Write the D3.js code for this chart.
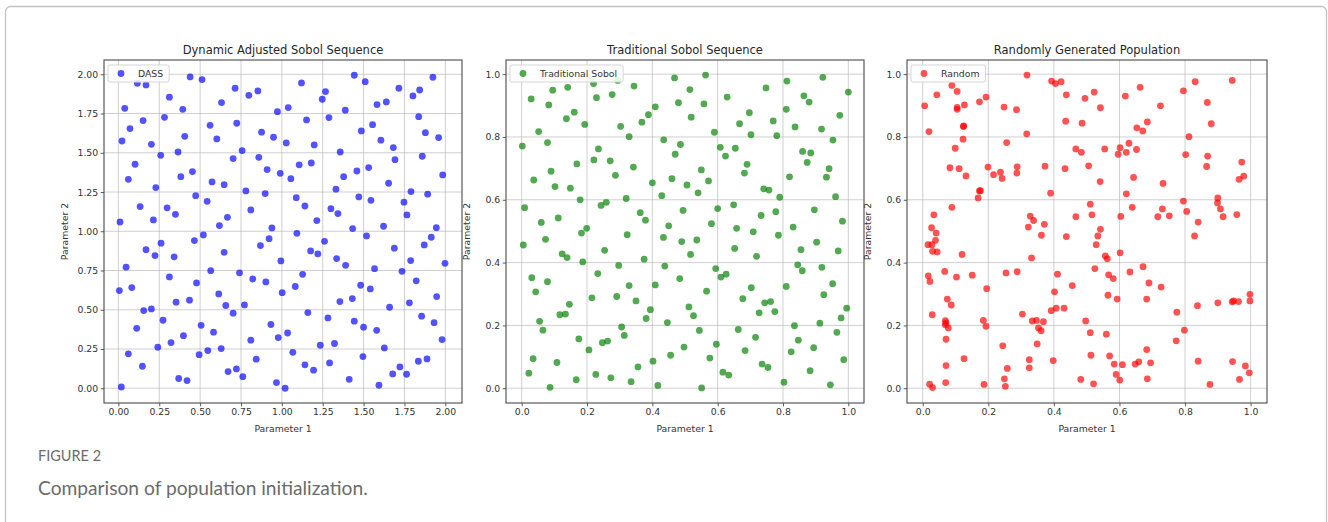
<!DOCTYPE html>
<html>
<head>
<meta charset="utf-8">
<script src="https://cdn.jsdelivr.net/npm/d3@7"></script>
<style>
  html, body { margin: 0; padding: 0; background: #fff; }
  #container { width: 1328px; height: 522px; }
</style>
</head>
<body>
<div id="container"></div>
<script>
// values
const dassPoints = [
  [0.116,1.943],[0.169,1.932],[0.439,1.983],[0.512,1.966],[0.714,1.911],[0.798,1.866],[0.853,1.894],[1.120,1.945],
  [1.443,1.994],[1.510,1.953],[1.267,1.890],[1.247,1.841],[1.716,1.911],[1.802,1.862],[1.843,1.900],[1.924,1.981],
  [0.039,1.783],[0.312,1.854],[0.394,1.777],[0.631,1.820],[0.973,1.762],[1.039,1.788],[1.388,1.771],[1.582,1.807],
  [1.639,1.824],[1.837,1.730],[0.071,1.654],[0.151,1.705],[0.282,1.726],[0.561,1.675],[0.724,1.688],[1.151,1.709],
  [1.288,1.724],[1.555,1.679],[1.486,1.639],[0.022,1.575],[0.202,1.554],[0.406,1.605],[0.602,1.588],[0.876,1.631],
  [0.949,1.599],[1.027,1.563],[1.198,1.550],[1.606,1.580],[1.878,1.628],[1.959,1.597],[0.259,1.484],[0.365,1.505],
  [0.757,1.514],[0.702,1.463],[0.859,1.471],[1.357,1.505],[1.682,1.533],[1.692,1.456],[1.859,1.478],[0.102,1.427],
  [0.061,1.331],[0.382,1.348],[0.453,1.380],[0.910,1.393],[0.990,1.369],[1.106,1.423],[1.180,1.435],[1.055,1.335],
  [1.378,1.348],[1.459,1.384],[1.531,1.406],[1.984,1.359],[0.229,1.278],[0.573,1.314],[0.647,1.297],[1.653,1.306],
  [0.780,1.257],[0.898,1.240],[1.331,1.268],[1.790,1.253],[1.892,1.236],[0.473,1.227],[0.543,1.191],[1.088,1.214],
  [1.471,1.219],[1.545,1.197],[1.747,1.185],[0.133,1.157],[0.298,1.149],[0.349,1.108],[0.810,1.136],[1.141,1.161],
  [1.300,1.144],[1.343,1.113],[1.765,1.104],[0.010,1.059],[0.214,1.072],[0.618,1.036],[0.667,1.089],[1.214,1.068],
  [0.939,1.021],[1.433,1.017],[1.622,1.032],[1.945,1.023],
  [1.092,0.987],[1.914,0.962],[0.261,0.924],[0.465,0.941],[0.520,0.977],[0.169,0.883],[0.224,0.845],[0.341,0.837],
  [0.647,0.866],[0.869,0.909],[0.922,0.953],[1.176,0.875],[1.220,0.856],[1.261,0.936],[1.518,0.970],[1.688,0.892],
  [1.871,0.913],[1.335,0.826],[1.390,0.783],[0.994,0.811],[0.047,0.771],[1.567,0.762],[1.735,0.745],[1.788,0.813],
  [1.998,0.796],[0.565,0.749],[0.741,0.735],[0.312,0.709],[0.478,0.671],[0.822,0.696],[0.902,0.677],[1.127,0.726],
  [1.082,0.648],[1.482,0.656],[1.541,0.633],[1.822,0.684],[0.006,0.622],[0.082,0.641],[0.614,0.601],[1.002,0.609],
  [1.947,0.584],[0.353,0.548],[0.435,0.561],[0.657,0.527],[0.702,0.478],[0.771,0.531],[1.355,0.552],[1.431,0.571],
  [1.659,0.516],[1.780,0.544],[0.155,0.495],[0.202,0.505],[0.273,0.433],[1.159,0.482],[1.282,0.448],[1.855,0.459],
  [1.931,0.418],[0.112,0.382],[0.398,0.335],[0.506,0.401],[0.582,0.357],[0.933,0.406],[0.978,0.323],[1.035,0.352],
  [1.443,0.427],[1.500,0.389],[1.580,0.369],[0.810,0.306],[0.322,0.291],[1.980,0.310],[0.241,0.261],[0.629,0.253],
  [0.547,0.240],[0.494,0.214],[0.061,0.219],[1.235,0.274],[1.322,0.285],[1.627,0.257],[1.067,0.229],[1.496,0.202],
  [0.843,0.185],[0.147,0.140],[1.292,0.161],[1.141,0.149],[1.194,0.115],[0.671,0.106],[0.722,0.123],[0.761,0.074],
  [1.835,0.172],[1.888,0.187],[1.722,0.136],[1.678,0.091],[1.763,0.089],[0.369,0.062],[0.420,0.049],[0.967,0.036],
  [1.020,0.000],[1.412,0.057],[1.594,0.019],[0.018,0.008]
];

const sobolPoints = [
  [0.294,0.980],[0.220,0.970],[0.468,0.988],[0.563,0.997],[0.922,0.990],[0.812,0.978],[0.748,0.956],[0.344,0.962],
  [0.141,0.958],[0.095,0.949],[0.515,0.951],[1.000,0.943],[0.029,0.921],[0.083,0.902],[0.229,0.925],[0.277,0.935],
  [0.480,0.909],[0.558,0.905],[0.629,0.927],[0.864,0.931],[0.880,0.911],[0.409,0.896],[0.161,0.879],[0.137,0.858],
  [0.388,0.871],[0.368,0.847],[0.519,0.863],[0.697,0.877],[0.810,0.888],[0.974,0.869],[0.193,0.840],[0.303,0.834],
  [0.667,0.842],[0.770,0.851],[0.837,0.832],[0.918,0.825],[0.052,0.817],[0.329,0.801],[0.590,0.815],[0.702,0.807],
  [0.781,0.804],[0.002,0.771],[0.079,0.782],[0.235,0.762],[0.435,0.791],[0.486,0.776],[0.470,0.745],[0.608,0.767],
  [0.624,0.739],[0.654,0.764],[0.953,0.790],[0.860,0.754],[0.885,0.749],[0.874,0.719],[0.169,0.714],[0.221,0.727],
  [0.271,0.724],[0.342,0.704],[0.690,0.713],[0.941,0.699],[0.090,0.691],[0.287,0.678],[0.550,0.695],[0.682,0.685],
  [0.820,0.673],[0.933,0.672],[0.037,0.663],[0.460,0.667],[0.572,0.660],[0.400,0.654],[0.506,0.647],[0.102,0.642],
  [0.149,0.637],[0.741,0.635],[0.757,0.631],[0.540,0.622],[0.179,0.600],[0.320,0.604],[0.429,0.613],[0.790,0.608],
  [0.961,0.610],[0.009,0.575],[0.243,0.582],[0.259,0.592],[0.600,0.572],[0.649,0.584],[0.494,0.566],[0.778,0.562],
  [0.896,0.568],[0.363,0.559],[0.733,0.550],[0.112,0.542],[0.060,0.528],[0.379,0.535],[0.982,0.532],[0.199,0.509],
  [0.450,0.517],[0.581,0.524],[0.658,0.509],[0.831,0.513],
  [0.183,0.494],[0.709,0.498],[0.005,0.456],[0.073,0.474],[0.323,0.489],[0.434,0.480],[0.490,0.467],[0.536,0.472],
  [0.786,0.487],[0.254,0.439],[0.124,0.428],[0.139,0.416],[0.187,0.402],[0.375,0.411],[0.517,0.426],[0.652,0.445],
  [0.719,0.420],[0.855,0.441],[0.903,0.465],[0.969,0.437],[0.031,0.352],[0.079,0.339],[0.043,0.307],[0.233,0.365],
  [0.297,0.391],[0.438,0.389],[0.484,0.349],[0.594,0.381],[0.610,0.354],[0.626,0.363],[0.845,0.393],[0.859,0.374],
  [0.919,0.385],[0.329,0.327],[0.409,0.329],[0.566,0.309],[0.703,0.320],[0.810,0.324],[0.952,0.333],[0.925,0.298],
  [0.215,0.288],[0.291,0.292],[0.350,0.278],[0.146,0.267],[0.117,0.234],[0.134,0.236],[0.394,0.250],[0.512,0.259],
  [0.677,0.285],[0.744,0.272],[0.762,0.276],[0.727,0.240],[0.775,0.244],[0.995,0.255],[0.055,0.213],[0.065,0.185],
  [0.381,0.222],[0.446,0.209],[0.526,0.231],[0.978,0.224],[0.913,0.207],[0.835,0.199],[0.306,0.195],[0.314,0.168],
  [0.544,0.184],[0.663,0.187],[0.175,0.157],[0.247,0.145],[0.263,0.150],[0.847,0.153],[0.965,0.178],[0.716,0.162],
  [0.206,0.122],[0.596,0.140],[0.497,0.131],[0.684,0.120],[0.825,0.116],[0.894,0.129],[0.035,0.094],[0.108,0.082],
  [0.456,0.105],[0.402,0.086],[0.576,0.096],[0.736,0.077],[0.754,0.066],[0.986,0.091],[0.022,0.048],[0.356,0.068],
  [0.227,0.044],[0.616,0.051],[0.634,0.042],[0.883,0.056],[0.167,0.027],[0.273,0.033],[0.335,0.021],[0.417,0.009],
  [0.087,0.003],[0.551,0.001],[0.803,0.019],[0.945,0.011]
];

const randomPoints = [
  [0.318,0.997],[0.393,0.978],[0.405,0.970],[0.422,0.976],[0.663,0.958],[0.831,0.976],[0.944,0.980],[0.089,0.964],
  [0.105,0.945],[0.043,0.934],[0.193,0.927],[0.173,0.912],[0.438,0.934],[0.495,0.923],[0.523,0.943],[0.618,0.930],
  [0.795,0.947],[0.006,0.899],[0.105,0.894],[0.105,0.888],[0.127,0.902],[0.248,0.895],[0.286,0.887],[0.542,0.893],
  [0.725,0.899],[0.868,0.910],[0.436,0.850],[0.486,0.844],[0.685,0.848],[0.653,0.829],[0.671,0.819],[0.880,0.842],
  [0.019,0.817],[0.125,0.835],[0.124,0.833],[0.317,0.810],[0.812,0.801],[0.123,0.793],[0.256,0.782],[0.099,0.764],
  [0.467,0.762],[0.484,0.751],[0.555,0.762],[0.602,0.766],[0.596,0.745],[0.621,0.751],[0.629,0.780],[0.652,0.760],
  [0.802,0.744],[0.869,0.739],[0.973,0.720],[0.083,0.702],[0.111,0.699],[0.199,0.704],[0.132,0.676],[0.216,0.680],
  [0.237,0.688],[0.242,0.668],[0.288,0.705],[0.287,0.685],[0.373,0.707],[0.434,0.699],[0.506,0.708],[0.866,0.706],
  [0.979,0.675],[0.965,0.665],[0.541,0.658],[0.643,0.671],[0.733,0.652],[0.176,0.629],[0.173,0.628],[0.169,0.606],
  [0.390,0.621],[0.621,0.619],[0.795,0.596],[0.900,0.606],[0.899,0.590],[0.908,0.571],[0.089,0.576],[0.511,0.586],
  [0.639,0.576],[0.731,0.571],[0.805,0.563],[0.034,0.552],[0.328,0.548],[0.338,0.534],[0.467,0.546],[0.516,0.552],
  [0.604,0.547],[0.717,0.546],[0.752,0.549],[0.840,0.529],[0.916,0.546],[0.958,0.553],[0.371,0.522],[0.027,0.511],
  [0.322,0.513],[0.542,0.506],
  [0.041,0.494],[0.039,0.471],[0.016,0.457],[0.028,0.457],[0.030,0.436],[0.044,0.434],[0.362,0.487],[0.438,0.483],
  [0.534,0.485],[0.529,0.457],[0.829,0.485],[0.120,0.426],[0.332,0.415],[0.557,0.421],[0.563,0.412],[0.602,0.431],
  [0.017,0.358],[0.022,0.340],[0.067,0.372],[0.103,0.354],[0.151,0.360],[0.254,0.367],[0.288,0.371],[0.411,0.363],
  [0.525,0.381],[0.567,0.361],[0.581,0.349],[0.632,0.370],[0.672,0.387],[0.690,0.335],[0.727,0.322],[0.195,0.317],
  [0.456,0.327],[0.402,0.307],[0.565,0.296],[0.593,0.284],[0.683,0.284],[0.075,0.284],[0.087,0.265],[0.029,0.234],
  [0.304,0.236],[0.407,0.255],[0.431,0.255],[0.392,0.247],[0.838,0.263],[0.900,0.272],[0.944,0.275],[0.948,0.278],
  [0.963,0.276],[0.998,0.299],[0.998,0.278],[0.775,0.242],[0.069,0.215],[0.071,0.208],[0.069,0.202],[0.078,0.192],
  [0.185,0.216],[0.193,0.197],[0.334,0.214],[0.347,0.216],[0.368,0.212],[0.353,0.192],[0.361,0.183],[0.497,0.214],
  [0.511,0.177],[0.560,0.172],[0.798,0.185],[0.071,0.156],[0.244,0.135],[0.349,0.141],[0.773,0.151],[0.513,0.105],
  [0.570,0.103],[0.683,0.123],[0.126,0.094],[0.325,0.091],[0.398,0.088],[0.584,0.077],[0.609,0.075],[0.648,0.077],
  [0.659,0.084],[0.695,0.081],[0.840,0.086],[0.945,0.085],[0.984,0.071],[0.071,0.072],[0.258,0.063],[0.325,0.065],
  [0.590,0.044],[0.996,0.049],[0.249,0.030],[0.252,0.006],[0.482,0.028],[0.601,0.026],[0.685,0.030],[0.966,0.028],
  [0.070,0.018],[0.021,0.013],[0.030,0.002],[0.187,0.012],[0.521,0.014],[0.876,0.012]
];

const dassTicks = [0, 0.25, 0.5, 0.75, 1, 1.25, 1.5, 1.75, 2]
const unitTicks = [0, 0.2, 0.4, 0.6, 0.8, 1]
const titles = ["Dynamic Adjusted Sobol Sequence", "Traditional Sobol Sequence", "Randomly Generated Population"]
const legendNames = ["DASS", "Traditional Sobol", "Random"]
const colors = ["rgb(0,0,255)", "rgb(0,128,0)", "rgb(255,0,0)"]
const xLabel = "Parameter 1"
const yLabel = "Parameter 2"
const figLabel = "FIGURE 2"
const caption = "Comparison of population initialization."

const container = d3.select("#container")
const width = 1328
const height = 522
const mplFont = "'DejaVu Sans', sans-serif"

const svg = container.append("svg")
                     .attr("width", width)
                     .attr("height", height)

// outer card border
svg.append("rect")
   .attr("x", 5.5)
   .attr("y", 6.5)
   .attr("width", 1321)
   .attr("height", 560)
   .attr("rx", 5)
   .attr("fill", "none")
   .attr("stroke", "#c4c4c4")
   .attr("stroke-width", 1.3)

// panel layout
const panels = [
    {left: 104, w: 358, xDomain: [-0.088, 2.102], yDomain: [-0.094, 2.091], ticks: dassTicks, fmt: d3.format(".2f"), points: dassPoints},
    {left: 506, w: 358, xDomain: [-0.048, 1.048], yDomain: [-0.047, 1.045], ticks: unitTicks, fmt: d3.format(".1f"), points: sobolPoints},
    {left: 907, w: 360, xDomain: [-0.048, 1.05], yDomain: [-0.047, 1.045], ticks: unitTicks, fmt: d3.format(".1f"), points: randomPoints}
]
const panelTop = 60
const panelHeight = 343

panels.forEach((p, i) => {
    const g = svg.append("g")
                 .attr("transform", `translate(${p.left}, ${panelTop})`)

    const xScale = d3.scaleLinear().domain(p.xDomain).range([0, p.w])
    const yScale = d3.scaleLinear().domain(p.yDomain).range([panelHeight, 0])

    // grid lines
    g.selectAll(".vgrid")
     .data(p.ticks)
     .join("line")
     .attr("x1", d => xScale(d))
     .attr("x2", d => xScale(d))
     .attr("y1", 0)
     .attr("y2", panelHeight)
     .attr("stroke", "#b0b0b0")
     .attr("stroke-opacity", 0.6)
     .attr("stroke-width", 1)
    g.selectAll(".hgrid")
     .data(p.ticks)
     .join("line")
     .attr("x1", 0)
     .attr("x2", p.w)
     .attr("y1", d => yScale(d))
     .attr("y2", d => yScale(d))
     .attr("stroke", "#b0b0b0")
     .attr("stroke-opacity", 0.6)
     .attr("stroke-width", 1)

    // points
    g.selectAll(".dot")
     .data(p.points)
     .join("circle")
     .attr("cx", d => xScale(d[0]))
     .attr("cy", d => yScale(d[1]))
     .attr("r", 3.4)
     .attr("fill", colors[i])
     .attr("fill-opacity", 0.68)

    // frame
    g.append("rect")
     .attr("width", p.w)
     .attr("height", panelHeight)
     .attr("fill", "none")
     .attr("stroke", "#4a4a4a")
     .attr("stroke-width", 1.1)

    // axes
    const xAxis = d3.axisBottom(xScale).tickValues(p.ticks).tickFormat(p.fmt).tickSize(3.3).tickPadding(2.5)
    const yAxis = d3.axisLeft(yScale).tickValues(p.ticks).tickFormat(p.fmt).tickSize(3.3).tickPadding(2.5)
    const xg = g.append("g").attr("transform", `translate(0, ${panelHeight})`).call(xAxis)
    const yg = g.append("g").call(yAxis)
    ;[xg, yg].forEach(a => {
        a.select(".domain").remove()
        a.selectAll(".tick line").attr("stroke", "#4a4a4a").attr("stroke-width", 0.9)
        a.selectAll(".tick text")
         .attr("font-family", mplFont)
         .attr("font-size", "9.3px")
         .attr("fill", "#333")
    })

    // title and axis labels
    g.append("text")
     .attr("x", p.w / 2)
     .attr("y", -6)
     .attr("text-anchor", "middle")
     .attr("font-family", mplFont)
     .attr("font-size", "11.5px")
     .attr("fill", "#262626")
     .text(titles[i])
    g.append("text")
     .attr("x", p.w / 2)
     .attr("y", panelHeight + 29)
     .attr("text-anchor", "middle")
     .attr("font-family", mplFont)
     .attr("font-size", "9.3px")
     .attr("fill", "#333")
     .text(xLabel)
    g.append("text")
     .attr("transform", `translate(-36.5, ${panelHeight / 2}) rotate(-90)`)
     .attr("text-anchor", "middle")
     .attr("font-family", mplFont)
     .attr("font-size", "9.3px")
     .attr("fill", "#333")
     .text(yLabel)

    // legend
    const lg = g.append("g").attr("transform", "translate(4, 5)")
    const box = lg.append("rect")
                  .attr("y", 0)
                  .attr("height", 17)
                  .attr("rx", 2)
                  .attr("fill", "#fff")
                  .attr("fill-opacity", 0.85)
                  .attr("stroke", "#d5d5d5")
                  .attr("stroke-width", 1)
    lg.append("circle")
      .attr("cx", 13)
      .attr("cy", 8.5)
      .attr("r", 3.4)
      .attr("fill", colors[i])
      .attr("fill-opacity", 0.68)
    const lt = lg.append("text")
                 .attr("x", 30)
                 .attr("y", 8.5)
                 .attr("dy", "0.35em")
                 .attr("font-family", mplFont)
                 .attr("font-size", "9.3px")
                 .attr("fill", "#333")
                 .text(legendNames[i])
    box.attr("width", 30 + lt.node().getComputedTextLength() + 6)
})

// figure caption
svg.append("text")
   .attr("x", 38)
   .attr("y", 461)
   .attr("font-family", "Lato, 'Open Sans', sans-serif")
   .attr("font-size", "14.5px")
   .attr("fill", "#6b6b6b")
   .text(figLabel)
svg.append("text")
   .attr("x", 38)
   .attr("y", 495)
   .attr("font-family", "Lato, 'Open Sans', sans-serif")
   .attr("font-size", "19.2px")
   .attr("fill", "#6b6b6b")
   .text(caption)
</script>
</body>
</html>
